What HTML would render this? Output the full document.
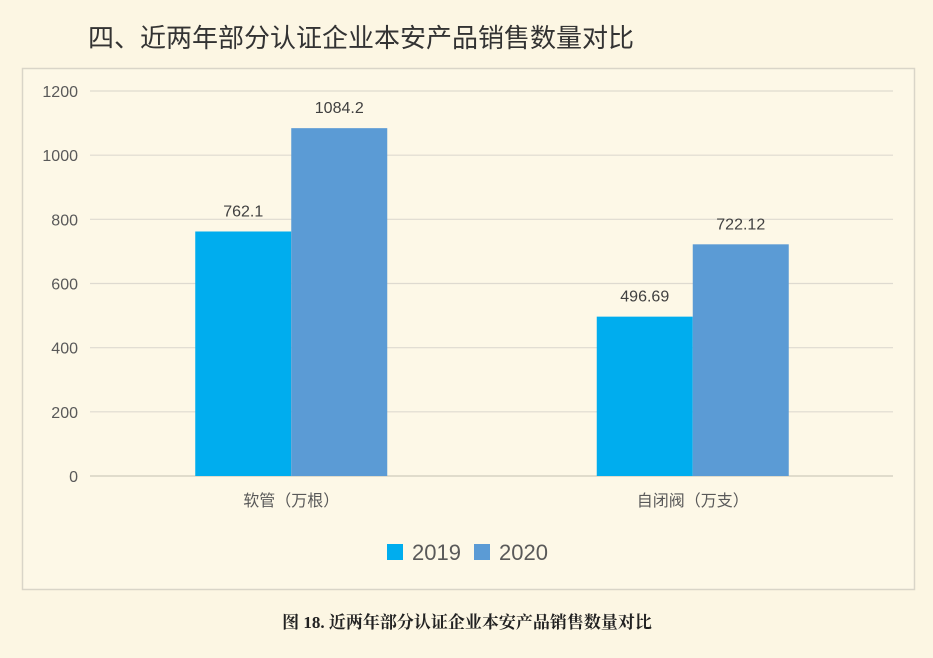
<!DOCTYPE html>
<html><head><meta charset="utf-8">
<style>
body{margin:0;background:#fcf6e3;width:933px;height:658px;overflow:hidden;font-family:"Liberation Sans","Noto Sans CJK SC",sans-serif;}
svg{display:block}
</style></head>
<body>
<svg width="933" height="658">
<rect x="0" y="0" width="933" height="658" fill="#fcf6e3"/>
<text x="88" y="47" font-size="26" fill="#333" font-family="'Noto Sans CJK SC',sans-serif">四、近两年部分认证企业本安产品销售数量对比</text>
<rect x="22.5" y="68.5" width="892" height="521" fill="#fdf8e7" stroke="#d9d5c8" stroke-width="1.5"/>
<g id="grid"></g>
<g id="bars"></g>
<g id="legend">
<rect x="387" y="544" width="16" height="16" fill="#00adee"/>
<text x="412" y="560" font-size="22" fill="#595959">2019</text>
<rect x="474" y="544" width="16" height="16" fill="#5b9bd5"/>
<text x="499" y="560" font-size="22" fill="#595959">2020</text>
</g>
<text x="467" y="628" font-size="17" font-weight="bold" text-anchor="middle" fill="#222" font-family="'Liberation Serif','Noto Serif CJK SC',serif">图 18. 近两年部分认证企业本安产品销售数量对比</text>
</svg>
<script>
const categories=["软管（万根）","自闭阀（万支）"];
const series2019=[762.1,496.69];
const series2020=[1084.2,722.12];
const labels2019=["762.1","496.69"];
const labels2020=["1084.2","722.12"];
const yTicks=[0,200,400,600,800,1000,1200];
const NS="http://www.w3.org/2000/svg";
const x0=90,x1=893,yBase=476,yTop=91,yMax=1200;
function y(v){return yBase-(v/yMax)*(yBase-yTop);}
function catCenter(i){const w=(x1-x0)/categories.length;return x0+w*(i+0.5)-(i===0?-0.5:-0.5);}
const barW=96;
function mk(tag,attrs,parent){const e=document.createElementNS(NS,tag);for(const k in attrs)e.setAttribute(k,attrs[k]);parent.appendChild(e);return e;}
const grid=document.getElementById('grid');
yTicks.forEach(t=>{
  const l=mk('line',{x1:x0,x2:x1,y1:y(t),y2:y(t),stroke:t===0?'#cfcabc':'#dedad0','stroke-width':1.2},grid);
  
  
  const tx=mk('text',{x:78,y:y(t)+6,'font-size':16,fill:'#595959','text-anchor':'end'},grid);
  tx.textContent=t;
  
  
});
const bars=document.getElementById('bars');
categories.forEach((c,i)=>{
  const cx=catCenter(i);
  [[series2019,labels2019,'#00adee',-1,'2019'],[series2020,labels2020,'#5b9bd5',0,'2020']].forEach(([s,lb,col,off,yr])=>{
    const bx=cx+off*barW;
    const r=mk('rect',{x:bx,y:y(s[i]),width:barW,height:yBase-y(s[i]),fill:col},bars);
    
    
    const t=mk('text',{x:bx+barW/2,y:y(s[i])-15,'font-size':16,fill:'#404040','text-anchor':'middle'},bars);
    t.textContent=lb[i];
    
    
  });
  const ct=mk('text',{x:cx,y:506,'font-size':16,fill:'#595959','text-anchor':'middle'},bars);
  ct.textContent=c;
  
  
});
</script>
</body></html>
